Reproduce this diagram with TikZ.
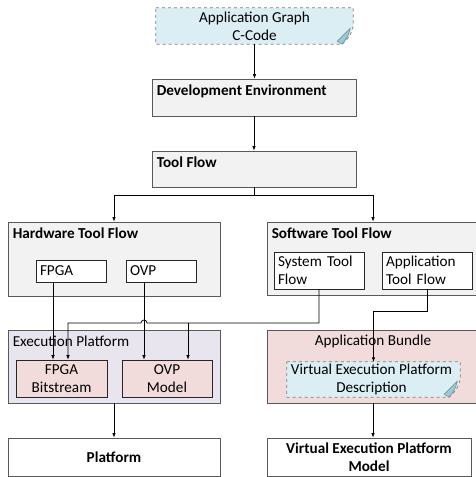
\documentclass[tikz,border=0pt]{standalone}
\usepackage{fontspec}
\setmainfont{Carlito}
\usetikzlibrary{calc,arrows.meta,positioning}
\definecolor{panelfill}{HTML}{F2F2F2}
\definecolor{edgegray}{HTML}{595959}
\definecolor{docfill}{HTML}{DBEEF4}
\definecolor{foldblue}{HTML}{93CDDD}
\definecolor{pinkfill}{HTML}{F2DCDB}
\definecolor{lavfill}{HTML}{E8E5EE}
\newcommand{\figfont}{\fontsize{15.2}{18}\selectfont}
\tikzset{
	panel/.style={draw=edgegray,fill=panelfill,line width=0.8pt,inner sep=0pt},
	whitebox/.style={draw=black!85,fill=white,line width=0.7pt,inner xsep=4pt,inner ysep=0pt,align=left},
	pinkbox/.style={draw=black!85,fill=pinkfill,line width=0.7pt,inner sep=0pt,align=center},
	paneltitle/.style={anchor=west,inner sep=0pt,font=\figfont\bfseries},
	flow/.style={-{Latex[length=4.5pt,width=3.5pt]},line width=0.7pt},
}
\newcommand{\foldeddoc}[1]{%
	\filldraw[fill=docfill,draw=gray,dashed,line width=0.7pt] (#1.north west) -- (#1.north east)
		-- ([yshift=18pt]#1.south east) .. controls ([xshift=-3pt,yshift=8pt]#1.south east) .. ([xshift=-11pt]#1.south east)
		-- (#1.south west) -- cycle;
	\filldraw[fill=foldblue,draw=gray,line width=0.5pt] ([xshift=-16pt,yshift=3pt]#1.south east)
		-- ([xshift=-3pt,yshift=16pt]#1.south east) .. controls ([xshift=-5pt,yshift=8pt]#1.south east) .. ([xshift=-11pt]#1.south east) -- cycle;
}

\begin{document}
\begin{tikzpicture}[x=1pt,y=-1pt,every node/.style={font=\figfont}]
\useasboundingbox (0,0) rectangle (476,477);

\node[minimum width=197pt,minimum height=36pt,inner sep=0pt] (appgraph) at (254.5,26) {};
\foldeddoc{appgraph}
\node[align=center,inner sep=0pt] (appgraphT) at (appgraph) {Application Graph\\C-Code};

\node[panel,minimum width=204pt,minimum height=37pt] (devenv) at (254,97.5) {};
\node[paneltitle] (devenvT) at ([xshift=5pt,yshift=-13pt]devenv.north west) {Development Environment};

\node[panel,minimum width=204pt,minimum height=36pt] (toolflow) at (254,169) {};
\node[paneltitle] (toolflowT) at ([xshift=5pt,yshift=-12pt]toolflow.north west) {Tool Flow};

\node[panel,minimum width=212pt,minimum height=74pt] (hwtf) at (114,259) {};
\node[paneltitle] (hwtfT) at ([xshift=5pt,yshift=-12pt]hwtf.north west) {Hardware Tool Flow};
\node[whitebox,text width=62pt,minimum height=22pt] (fpga) at (71,271) {FPGA};
\node[whitebox,text width=62pt,minimum height=22pt] (ovp) at (161,271) {OVP};

\node[panel,minimum width=212pt,minimum height=73pt] (swtf) at (373,258.5) {};
\node[paneltitle] (swtfT) at ([xshift=5pt,yshift=-12pt]swtf.north west) {Software Tool Flow};
\node[whitebox,text width=82pt,minimum height=37pt] (systf) at (319,270.5) {System Tool\\Flow};
\node[whitebox,text width=82pt,minimum height=37pt] (apptf) at (427,270.5) {Application\\Tool Flow};

\node[draw=edgegray,fill=lavfill,line width=0.8pt,minimum width=212pt,minimum height=73pt] (execplat) at (114,366.5) {};
\node[anchor=west,inner sep=0pt] (execplatT) at ([xshift=5pt,yshift=-12pt]execplat.north west) {Execution Platform};
\node[pinkbox,minimum width=91pt,minimum height=37pt] (fpgabs) at (61.5,378.5) {FPGA\\Bitstream};
\node[pinkbox,minimum width=90pt,minimum height=37pt] (ovpmodel) at (167,378.5) {OVP\\Model};

\node[draw=edgegray,fill=pinkfill,line width=0.8pt,minimum width=212pt,minimum height=73pt] (appbundle) at (373,366.5) {};
\node[inner sep=0pt] (appbundleT) at ([yshift=-12pt]appbundle.north) {Application Bundle};
\node[minimum width=173pt,minimum height=35pt,inner sep=0pt] (vepdesc) at (373.5,379.5) {};
\foldeddoc{vepdesc}
\node[align=center,inner sep=0pt] (vepdescT) at ([xshift=-2pt]vepdesc) {Virtual Execution Platform\\Description};

\node[draw=edgegray,fill=white,line width=0.8pt,minimum width=212pt,minimum height=38pt,font=\figfont\bfseries] (platform) at (114,457) {Platform};
\node[draw=edgegray,fill=white,line width=0.8pt,minimum width=204pt,minimum height=38pt,inner sep=0pt,align=center,font=\figfont\bfseries] (vepmodel) at (369,457) {Virtual Execution Platform\\Model};

\coordinate (split) at (254,195);
\coordinate (bus) at (0,323);
\coordinate (appbend) at (0,311);

\draw[flow] (appgraph.south) -- (appgraph.south |- devenv.north);
\draw[flow] (devenv.south) -- (devenv.south |- toolflow.north);
\draw (toolflow.south) -- (split);
\draw[flow] (split) -| (hwtf.north);
\draw[flow] (split) -| (swtf.north);

\draw[flow] ([xshift=-18pt]fpga.south) -- ([xshift=-18pt]fpga.south |- fpgabs.north);
\draw[flow] ([xshift=-17pt]ovp.south) -- ([xshift=-17pt]ovp.south |- ovpmodel.north);
\draw[flow] (systf.south) |- ([xshift=-14pt]ovp.south |- bus) arc (0:-180:3) -| ([xshift=6.5pt]fpgabs.north);
\draw[flow] ([xshift=21pt]ovpmodel.north |- bus) -- ([xshift=21pt]ovpmodel.north);
\draw[flow] (apptf.south) |- (vepdesc.north |- appbend) -- (vepdesc.north);

\draw[flow] (execplat.south) -- (platform.north);
\draw[flow] (appbundle.south) -- (appbundle.south |- vepmodel.north);
\end{tikzpicture}
\end{document}
